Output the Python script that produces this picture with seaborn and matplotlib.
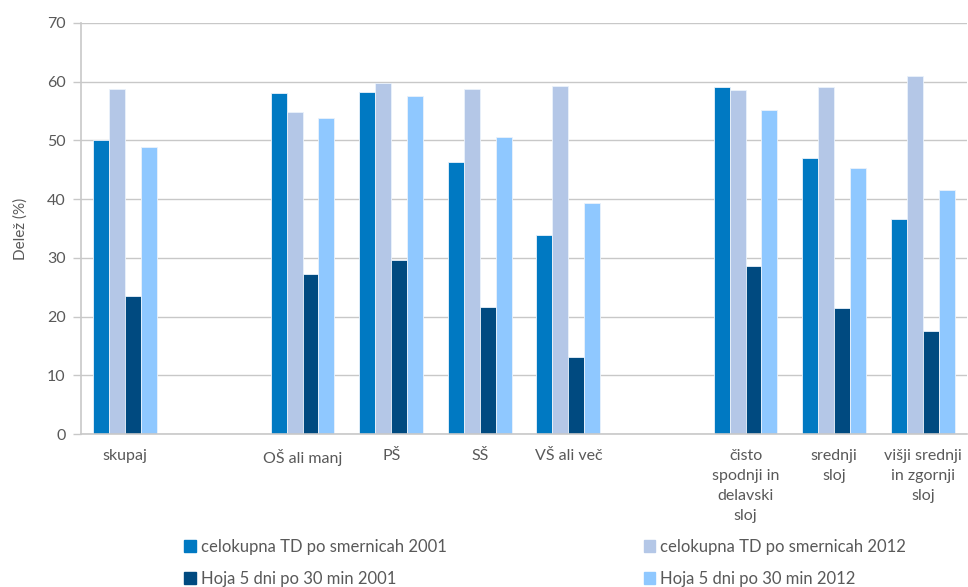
import numpy as np
import pandas as pd
import matplotlib
matplotlib.use("Agg")
import matplotlib.pyplot as plt
import seaborn as sns

categories = ["skupaj", "", "OŠ ali manj", "PŠ", "SŠ", "VŠ ali več", " ",
              "čisto\nspodnji in\ndelavski\nsloj", "srednji\nsloj",
              "višji srednji\nin zgornji\nsloj"]
series = ["celokupna TD po smernicah 2001", "Hoja 5 dni po 30 min 2001",
          "celokupna TD po smernicah 2012", "Hoja 5 dni po 30 min 2012"]
hue_order = [series[0], series[2], series[1], series[3]]

celokupna_2001 = [50.0, None, 58.0, 58.3, 46.4, 33.9, None, 59.0, 47.0, 36.6]
celokupna_2012 = [58.8, None, 54.8, 59.7, 58.8, 59.2, None, 58.6, 59.1, 61.0]
hoja_2001 = [23.5, None, 27.3, 29.6, 21.7, 13.1, None, 28.6, 21.4, 17.5]
hoja_2012 = [48.8, None, 53.8, 57.6, 50.5, 39.4, None, 55.2, 45.3, 41.6]

colors = {series[0]: "#0079C2", series[2]: "#B4C7E7",
          series[1]: "#004A80", series[3]: "#8FC8FF"}

rows = []
for vals, name in [(celokupna_2001, series[0]), (celokupna_2012, series[2]),
                   (hoja_2001, series[1]), (hoja_2012, series[3])]:
    for cat, v in zip(categories, vals):
        if v is not None:
            rows.append({"kategorija": cat, "serija": name, "delez": v})
df = pd.DataFrame(rows)

sns.set_theme(style="white")
plt.rcParams["font.family"] = ["Lato", "DejaVu Sans"]
text_col = "#595959"
grid_col = "#C8C8C8"

fig = plt.figure(figsize=(9.68, 5.87), dpi=100)
ax = fig.add_axes([0.0837, 0.2606, 0.9153, 0.7004])

sns.barplot(data=df, x="kategorija", y="delez", hue="serija",
            order=categories, hue_order=hue_order, palette=colors,
            saturation=1, width=0.72, edgecolor="#EAF2FB", linewidth=0.6,
            ax=ax, legend=False, errorbar=None)

ax.set_xlim(-0.5, len(categories) - 0.5)
ax.set_ylim(0, 70)
ax.set_yticks(range(0, 71, 10))
ax.yaxis.grid(True, color=grid_col, linewidth=1.0)
ax.set_axisbelow(True)

# slot boundaries as major ticks, labels at slot centres as minor ticks
ax.set_xticks(np.arange(-0.5, len(categories), 1.0))
ax.set_xticklabels([])
ax.set_xticks(np.arange(len(categories)), minor=True)
ax.set_xticklabels(categories, minor=True, fontsize=11.5, color=text_col,
                   linespacing=1.55)
ax.tick_params(axis="x", which="major", length=6, color=grid_col, width=1, direction="out")
ax.tick_params(axis="x", which="minor", length=0, pad=11)
ax.tick_params(axis="y", length=6, color=grid_col, width=1, labelsize=11.5,
               labelcolor=text_col, pad=5, left=True)

for s in ["top", "right"]:
    ax.spines[s].set_visible(False)
for s in ["left", "bottom"]:
    ax.spines[s].set_color(grid_col)
    ax.spines[s].set_linewidth(1.2)

ax.set_xlabel("")
ax.set_ylabel("Delež (%)", fontsize=11, color=text_col, labelpad=14)

handles = [plt.Rectangle((0, 0), 1, 1, color=colors[s]) for s in series]
fig.legend(handles, series, loc="lower left", bbox_to_anchor=(0.175, -0.025),
           ncol=2, frameon=False, fontsize=12, labelcolor=text_col,
           handlelength=0.7, handleheight=0.7, handletextpad=0.3,
           columnspacing=11.8, labelspacing=0.95)

fig.savefig("out.png", dpi=100)
